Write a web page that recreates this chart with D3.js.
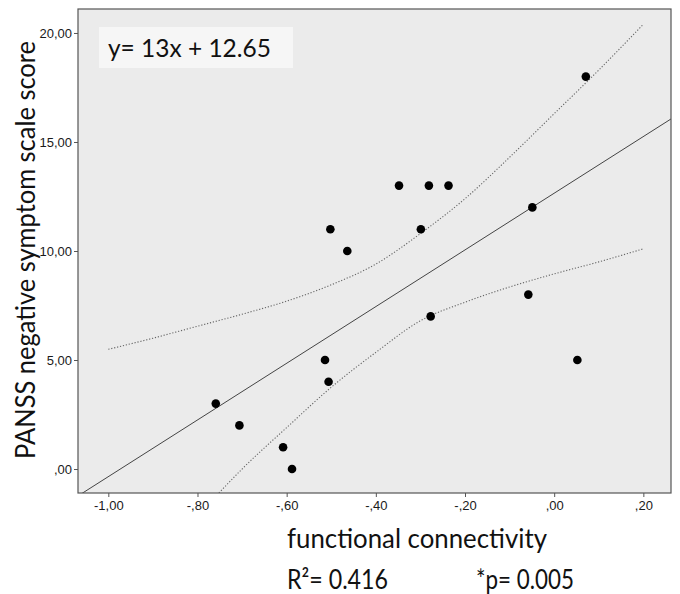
<!DOCTYPE html>
<html>
<head>
<meta charset="utf-8">
<script src="https://cdn.jsdelivr.net/npm/d3@7"></script>
<style>
  body { margin: 0; background: #fff; }
  svg { display: block; }
</style>
</head>
<body>
<svg id="chart" width="680" height="594"></svg>
<script>
// scatter values
const connectivity = [-0.759, -0.706, -0.608, -0.588, -0.514, -0.506, -0.502, -0.464, -0.348,
                      -0.281, -0.237, -0.299, -0.277, -0.058, -0.049, 0.052, 0.071];
const panssNeg = [3, 2, 1, 0, 5, 4, 11, 10, 13, 13, 13, 11, 7, 8, 12, 5, 18];

// fit line (from the printed equation)
const fitSlope = 13;
const fitIntercept = 12.65;

// dotted confidence band
const upperX = [-1.0, -0.9, -0.8, -0.7, -0.6, -0.5, -0.4, -0.3, -0.2, -0.1, 0.0, 0.1, 0.2];
const upperY = [5.49, 6.0, 6.55, 7.1, 7.7, 8.45, 9.4, 10.8, 12.4, 14.3, 16.3, 18.3, 20.4];
const lowerX = [-0.752, -0.7, -0.6, -0.5, -0.4, -0.3, -0.2, -0.1, 0.0, 0.1, 0.2];
const lowerY = [-1.1, 0.0, 1.9, 3.75, 5.35, 6.8, 7.65, 8.35, 8.95, 9.5, 10.1];

const xTicks = [-1.0, -0.8, -0.6, -0.4, -0.2, 0.0, 0.2];
const yTicks = [0, 5, 10, 15, 20];

const eqLabel = "y= 13x + 12.65";
const r2Label = "R\u00b2= 0.416";
const pLabel = "*p= 0.005";
const xTitle = "functional connectivity";
const yTitle = "PANSS negative symptom scale score";

const svg = d3.select("#chart");
const plot = {left: 78, top: 9, right: 671, bottom: 493};

const x = d3.scaleLinear().domain([-1.068, 0.262]).range([plot.left, plot.right]);
const y = d3.scaleLinear().domain([-1.1, 21.1]).range([plot.bottom, plot.top]);

// spss style number: -,80  ,00  5,00
const spss = v => {
    let s = d3.format(".2f")(v).replace("\u2212", "-").replace(".", ",");
    return s.replace(/^(-?)0,/, "$1,");
};

svg.append("defs").append("clipPath").attr("id", "clip")
    .append("rect")
    .attr("x", plot.left).attr("y", plot.top)
    .attr("width", plot.right - plot.left).attr("height", plot.bottom - plot.top);

svg.append("rect")
    .attr("x", plot.left).attr("y", plot.top)
    .attr("width", plot.right - plot.left).attr("height", plot.bottom - plot.top)
    .attr("fill", "#ebebeb");

// axes
const xAxis = svg.append("g")
    .attr("transform", `translate(0,${plot.bottom})`)
    .call(d3.axisBottom(x).tickValues(xTicks).tickFormat(spss).tickSize(4).tickSizeOuter(0).tickPadding(4));
const yAxis = svg.append("g")
    .attr("transform", `translate(${plot.left},0)`)
    .call(d3.axisLeft(y).tickValues(yTicks).tickFormat(spss).tickSize(4).tickSizeOuter(0).tickPadding(2));
[xAxis, yAxis].forEach(a => {
    a.select(".domain").remove();
    a.selectAll(".tick line").attr("stroke", "#555");
    a.selectAll(".tick text")
        .attr("fill", "#1a1a1a")
        .style("font-family", "'Liberation Sans', Arial, sans-serif")
        .style("font-size", "13px");
});

const g = svg.append("g").attr("clip-path", "url(#clip)");

// regression line
g.append("line")
    .attr("x1", x(x.domain()[0])).attr("y1", y(fitSlope * x.domain()[0] + fitIntercept))
    .attr("x2", x(x.domain()[1])).attr("y2", y(fitSlope * x.domain()[1] + fitIntercept))
    .attr("stroke", "#444").attr("stroke-width", 1);

// confidence band
const band = d3.line().x(d => x(d[0])).y(d => y(d[1])).curve(d3.curveMonotoneX);
[[upperX, upperY], [lowerX, lowerY]].forEach(([xs, ys]) => {
    g.append("path")
        .datum(xs.map((v, i) => [v, ys[i]]))
        .attr("fill", "none")
        .attr("stroke", "#666")
        .attr("stroke-width", 1.1)
        .attr("stroke-dasharray", "1.2,1.8")
        .attr("d", band);
});

// points
g.selectAll("circle.pt")
    .data(connectivity.map((v, i) => [v, panssNeg[i]]))
    .enter().append("circle")
    .attr("class", "pt")
    .attr("cx", d => x(d[0]))
    .attr("cy", d => y(d[1]))
    .attr("r", 4.3)
    .attr("fill", "#000");

// frame
svg.append("rect")
    .attr("x", plot.left).attr("y", plot.top)
    .attr("width", plot.right - plot.left).attr("height", plot.bottom - plot.top)
    .attr("fill", "none").attr("stroke", "#555").attr("stroke-width", 1.2);

// squeeze a text to a wanted width, keeping its height
function fitText(t, size, width) {
    t.style("font-size", size + "px");
    const w = t.node().getComputedTextLength();
    if (w > width) t.attr("textLength", width).attr("lengthAdjust", "spacingAndGlyphs");
    return t;
}
const bigFont = "Lato, 'Open Sans', sans-serif";

// equation box
svg.append("rect")
    .attr("x", 99).attr("y", 27).attr("width", 194).attr("height", 41)
    .attr("fill", "#f6f6f6");
fitText(svg.append("text")
    .attr("x", 108).attr("y", 57)
    .style("font-family", bigFont).attr("fill", "#111")
    .text(eqLabel), 25, 163);

// axis titles
fitText(svg.append("text")
    .attr("transform", "translate(35,250) rotate(-90)")
    .attr("text-anchor", "middle")
    .style("font-family", bigFont).attr("fill", "#111")
    .text(yTitle), 26, 418);

fitText(svg.append("text")
    .attr("x", 287).attr("y", 548)
    .style("font-family", bigFont).attr("fill", "#111")
    .text(xTitle), 26, 260);

fitText(svg.append("text")
    .attr("x", 287).attr("y", 589)
    .style("font-family", bigFont).attr("fill", "#111")
    .text(r2Label), 26, 101);
fitText(svg.append("text")
    .attr("x", 476).attr("y", 589)
    .style("font-family", bigFont).attr("fill", "#111")
    .text(pLabel), 26, 98);
</script>
</body>
</html>
